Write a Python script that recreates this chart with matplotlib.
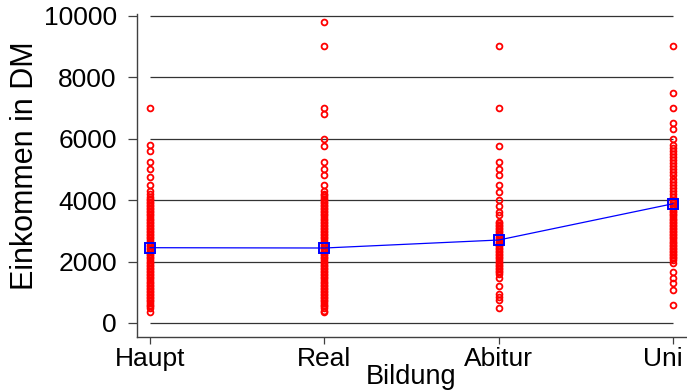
import matplotlib
matplotlib.use("Agg")
import matplotlib.pyplot as plt
import matplotlib.transforms as mtransforms

plt.rcParams['font.family'] = ['Liberation Sans', 'DejaVu Sans']

categories = ["Haupt", "Real", "Abitur", "Uni"]

haupt = [350,
         500, 550, 600, 650, 700, 750, 800, 850, 900, 950,
         1000, 1050, 1100, 1150, 1200, 1250, 1300, 1350, 1400, 1450,
         1500, 1550, 1600, 1650, 1700, 1750, 1800, 1850, 1900, 1950,
         2000, 2050, 2100, 2150, 2200, 2250, 2300, 2350, 2400, 2450,
         2500, 2550, 2600, 2650, 2700, 2750, 2800, 2850, 2900, 2950,
         3000, 3050, 3100, 3150, 3200, 3250, 3300, 3350, 3400, 3450,
         3500, 3550, 3600, 3650, 3700, 3750, 3800, 3850, 3900, 3950,
         4000, 4050, 4100,
         4200, 4300, 4500, 4750, 5000, 5250, 5600, 5800, 7000]

real = [350, 400,
        500, 550, 600, 650, 700, 750, 800, 850, 900, 950,
        1000, 1050, 1100, 1150, 1200, 1250, 1300, 1350, 1400, 1450,
        1500, 1550, 1600, 1650, 1700, 1750, 1800, 1850, 1900, 1950,
        2000, 2050, 2100, 2150, 2200, 2250, 2300, 2350, 2400, 2450,
        2500, 2550, 2600, 2650, 2700, 2750, 2800, 2850, 2900, 2950,
        3000, 3050, 3100, 3150, 3200, 3250, 3300, 3350, 3400, 3450,
        3500, 3550, 3600, 3650, 3700, 3750, 3800, 3850, 3900, 3950,
        4000, 4050, 4100, 4150, 4200,
        4300, 4500, 4800, 5000, 5250, 5750, 6000, 6800, 7000, 9000, 9800]

abitur = [500, 750, 850, 950, 1200, 1450,
          1600, 1650, 1700, 1750, 1800, 1850, 1900, 1950,
          2000, 2050, 2100, 2150, 2200, 2250, 2300, 2350, 2400, 2450,
          2500, 2550, 2600, 2650, 2700, 2750, 2800, 2850, 2900, 2950,
          3000, 3050, 3100, 3150, 3200, 3250, 3300,
          3500, 3600, 3800, 4000, 4250, 4500, 4800, 5000, 5250, 5750,
          7000, 9000]

uni = [600, 1075, 1300, 1450, 1650, 1950,
       2050, 2100, 2150, 2200, 2250, 2300, 2350, 2400, 2450,
       2500, 2550, 2600, 2650, 2700, 2750, 2800, 2850, 2900, 2950,
       3000, 3050, 3100, 3150, 3200, 3250, 3300, 3350, 3400, 3450,
       3500, 3550, 3600, 3650, 3700, 3750, 3800, 3850, 3900, 3950,
       4000, 4100, 4200, 4300, 4400, 4500, 4600, 4700, 4800, 4900,
       5000, 5100, 5200, 5300, 5400, 5500, 5600, 5700, 5800,
       6000, 6300, 6500, 7000, 7500, 9000]

means = [2450, 2440, 2700, 3880]

yticks = [0, 2000, 4000, 6000, 8000, 10000]

groups = [haupt, real, abitur, uni]

fig = plt.figure(figsize=(6.87, 3.91), dpi=100)
ax = fig.add_axes([137 / 687, (391 - 337) / 391, (686 - 137) / 687, (337 - 14) / 391])

positions = [1, 2, 3, 4]

# gridlines spanning the category range
ax.hlines(yticks, positions[0], positions[-1], colors="#333333", linewidth=0.9, zorder=1)

for pos, vals in zip(positions, groups):
    ax.plot([pos] * len(vals), vals, linestyle="none", marker="o",
            markersize=4.2, markerfacecolor="none", markeredgecolor="red",
            markeredgewidth=1.3, zorder=2)

ax.plot(positions, means, color="blue", linewidth=0.9, marker="s",
        markersize=6.5, markerfacecolor="none", markeredgecolor="blue",
        markeredgewidth=1.4, zorder=3)

ax.set_xlim(0.924, 4.075)
ax.set_ylim(-456, 10055)

ax.set_xticks(positions)
ax.set_xticklabels(categories)
ax.set_yticks(yticks)
ax.set_yticklabels([str(t) for t in yticks])

for s in ["top", "right"]:
    ax.spines[s].set_visible(False)
for s in ["left", "bottom"]:
    ax.spines[s].set_color("#404040")
    ax.spines[s].set_linewidth(1.0)

ax.tick_params(axis="y", length=6.5, width=0.9, color="#404040", pad=8, labelsize=19)
ax.tick_params(axis="x", length=5, width=0.9, color="#404040", pad=2, labelsize=19)

# keep the last category label inside the figure
last = ax.get_xticklabels()[-1]
last.set_transform(last.get_transform() +
                   mtransforms.ScaledTranslation(-10 / 100, 0, fig.dpi_scale_trans))

ax.set_xlabel("Bildung", fontsize=19.5, labelpad=-5)
ax.set_ylabel("Einkommen in DM", fontsize=22)
ax.yaxis.set_label_coords(-0.176, 0.53)

fig.savefig("out.png", dpi=100)
